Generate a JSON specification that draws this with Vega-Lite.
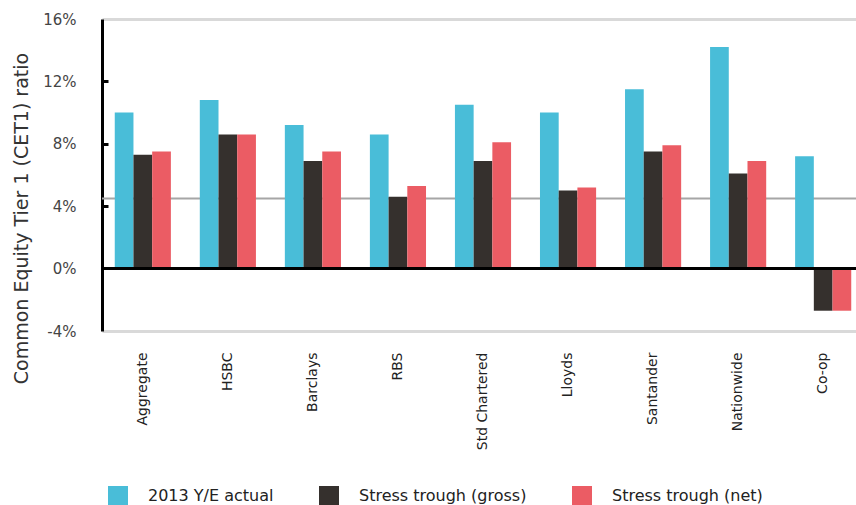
{
  "$schema": "https://vega.github.io/schema/vega-lite/v6.json",
  "autosize": "none",
  "width": 754,
  "height": 312,
  "padding": {"left": 102, "top": 19, "right": 0, "bottom": 174},
  "background": "white",
  "config": {
    "font": "DejaVu Sans",
    "view": {"stroke": null}
  },
  "resolve": {"axis": {"y": "independent"}},
  "datasets": {
    "bars": [
      {"bank": "Aggregate", "series": "2013 Y/E actual", "value": 10.0},
      {"bank": "Aggregate", "series": "Stress trough (gross)", "value": 7.3},
      {"bank": "Aggregate", "series": "Stress trough (net)", "value": 7.5},
      {"bank": "HSBC", "series": "2013 Y/E actual", "value": 10.8},
      {"bank": "HSBC", "series": "Stress trough (gross)", "value": 8.6},
      {"bank": "HSBC", "series": "Stress trough (net)", "value": 8.6},
      {"bank": "Barclays", "series": "2013 Y/E actual", "value": 9.2},
      {"bank": "Barclays", "series": "Stress trough (gross)", "value": 6.9},
      {"bank": "Barclays", "series": "Stress trough (net)", "value": 7.5},
      {"bank": "RBS", "series": "2013 Y/E actual", "value": 8.6},
      {"bank": "RBS", "series": "Stress trough (gross)", "value": 4.6},
      {"bank": "RBS", "series": "Stress trough (net)", "value": 5.3},
      {"bank": "Std Chartered", "series": "2013 Y/E actual", "value": 10.5},
      {"bank": "Std Chartered", "series": "Stress trough (gross)", "value": 6.9},
      {"bank": "Std Chartered", "series": "Stress trough (net)", "value": 8.1},
      {"bank": "Lloyds", "series": "2013 Y/E actual", "value": 10.0},
      {"bank": "Lloyds", "series": "Stress trough (gross)", "value": 5.0},
      {"bank": "Lloyds", "series": "Stress trough (net)", "value": 5.2},
      {"bank": "Santander", "series": "2013 Y/E actual", "value": 11.5},
      {"bank": "Santander", "series": "Stress trough (gross)", "value": 7.5},
      {"bank": "Santander", "series": "Stress trough (net)", "value": 7.9},
      {"bank": "Nationwide", "series": "2013 Y/E actual", "value": 14.2},
      {"bank": "Nationwide", "series": "Stress trough (gross)", "value": 6.1},
      {"bank": "Nationwide", "series": "Stress trough (net)", "value": 6.9},
      {"bank": "Co-op", "series": "2013 Y/E actual", "value": 7.2},
      {"bank": "Co-op", "series": "Stress trough (gross)", "value": -2.7},
      {"bank": "Co-op", "series": "Stress trough (net)", "value": -2.7}
    ],
    "threshold": [{"value": 4.5}],
    "zero": [{"value": 0}]
  },
  "layer": [
    {
      "data": {"name": "threshold"},
      "mark": {"type": "rule", "color": "#a6a6a6", "strokeWidth": 2},
      "encoding": {
        "y": {
          "field": "value",
          "type": "quantitative",
          "scale": {"domain": [-4, 16], "nice": false, "zero": false},
          "axis": {
            "orient": "right",
            "offset": -754,
            "title": null,
            "labels": false,
            "domain": false,
            "grid": false,
            "values": [4, 8, 12],
            "ticks": true,
            "tickSize": 6,
            "tickWidth": 3,
            "tickColor": "#000000"
          }
        }
      }
    },
    {
      "data": {"name": "bars"},
      "mark": {"type": "bar"},
      "encoding": {
        "x": {
          "field": "bank",
          "type": "nominal",
          "sort": ["Aggregate", "HSBC", "Barclays", "RBS", "Std Chartered", "Lloyds", "Santander", "Nationwide", "Co-op"],
          "scale": {"paddingInner": 0.34, "paddingOuter": 0.15, "range": [0, 762]},
          "axis": {
            "title": null,
            "orient": "bottom",
            "domain": false,
            "ticks": false,
            "labelAngle": -90,
            "labelPadding": 21,
            "labelFontSize": 14,
            "labelColor": "#222222"
          }
        },
        "xOffset": {
          "field": "series",
          "type": "nominal",
          "sort": ["2013 Y/E actual", "Stress trough (gross)", "Stress trough (net)"],
          "scale": {"paddingInner": 0, "paddingOuter": 0}
        },
        "y": {
          "field": "value",
          "type": "quantitative",
          "scale": {"domain": [-4, 16], "nice": false, "zero": false},
          "axis": {
            "orient": "left",
            "title": "Common Equity Tier 1 (CET1) ratio",
            "titleFontSize": 19,
            "titleFontWeight": "normal",
            "titleColor": "#333333",
            "titleX": -81,
            "titleY": 199,
            "titleAngle": 270,
            "titleBaseline": "middle",
            "titleAlign": "center",
            "values": [-4, 0, 4, 8, 12, 16],
            "labelExpr": "datum.value + '%'",
            "labelFontSize": 15,
            "labelColor": "#444444",
            "labelPadding": 26,
            "domain": true,
            "domainColor": "#000000",
            "domainWidth": 3,
            "ticks": false,
            "grid": true,
            "gridWidth": 3,
            "gridColor": {"condition": {"test": "datum.value === 16 || datum.value === -4", "value": "#d9d9d9"}, "value": "transparent"}
          }
        },
        "color": {
          "field": "series",
          "type": "nominal",
          "sort": ["2013 Y/E actual", "Stress trough (gross)", "Stress trough (net)"],
          "scale": {"range": ["#49bdd8", "#35302d", "#eb5c64"]},
          "legend": {
            "title": null,
            "orient": "none",
            "direction": "horizontal",
            "legendX": 6,
            "legendY": 467,
            "symbolType": "square",
            "symbolSize": 400,
            "symbolStrokeWidth": 0,
            "symbolOpacity": 1,
            "labelFontSize": 16,
            "labelLimit": 400,
            "labelColor": "#222222",
            "labelOffset": 20,
            "columnPadding": 45
          }
        }
      }
    },
    {
      "data": {"name": "zero"},
      "mark": {"type": "rule", "color": "#000000", "strokeWidth": 3},
      "encoding": {
        "y": {
          "field": "value",
          "type": "quantitative",
          "scale": {"domain": [-4, 16], "nice": false, "zero": false},
          "axis": null
        }
      }
    }
  ]
}
